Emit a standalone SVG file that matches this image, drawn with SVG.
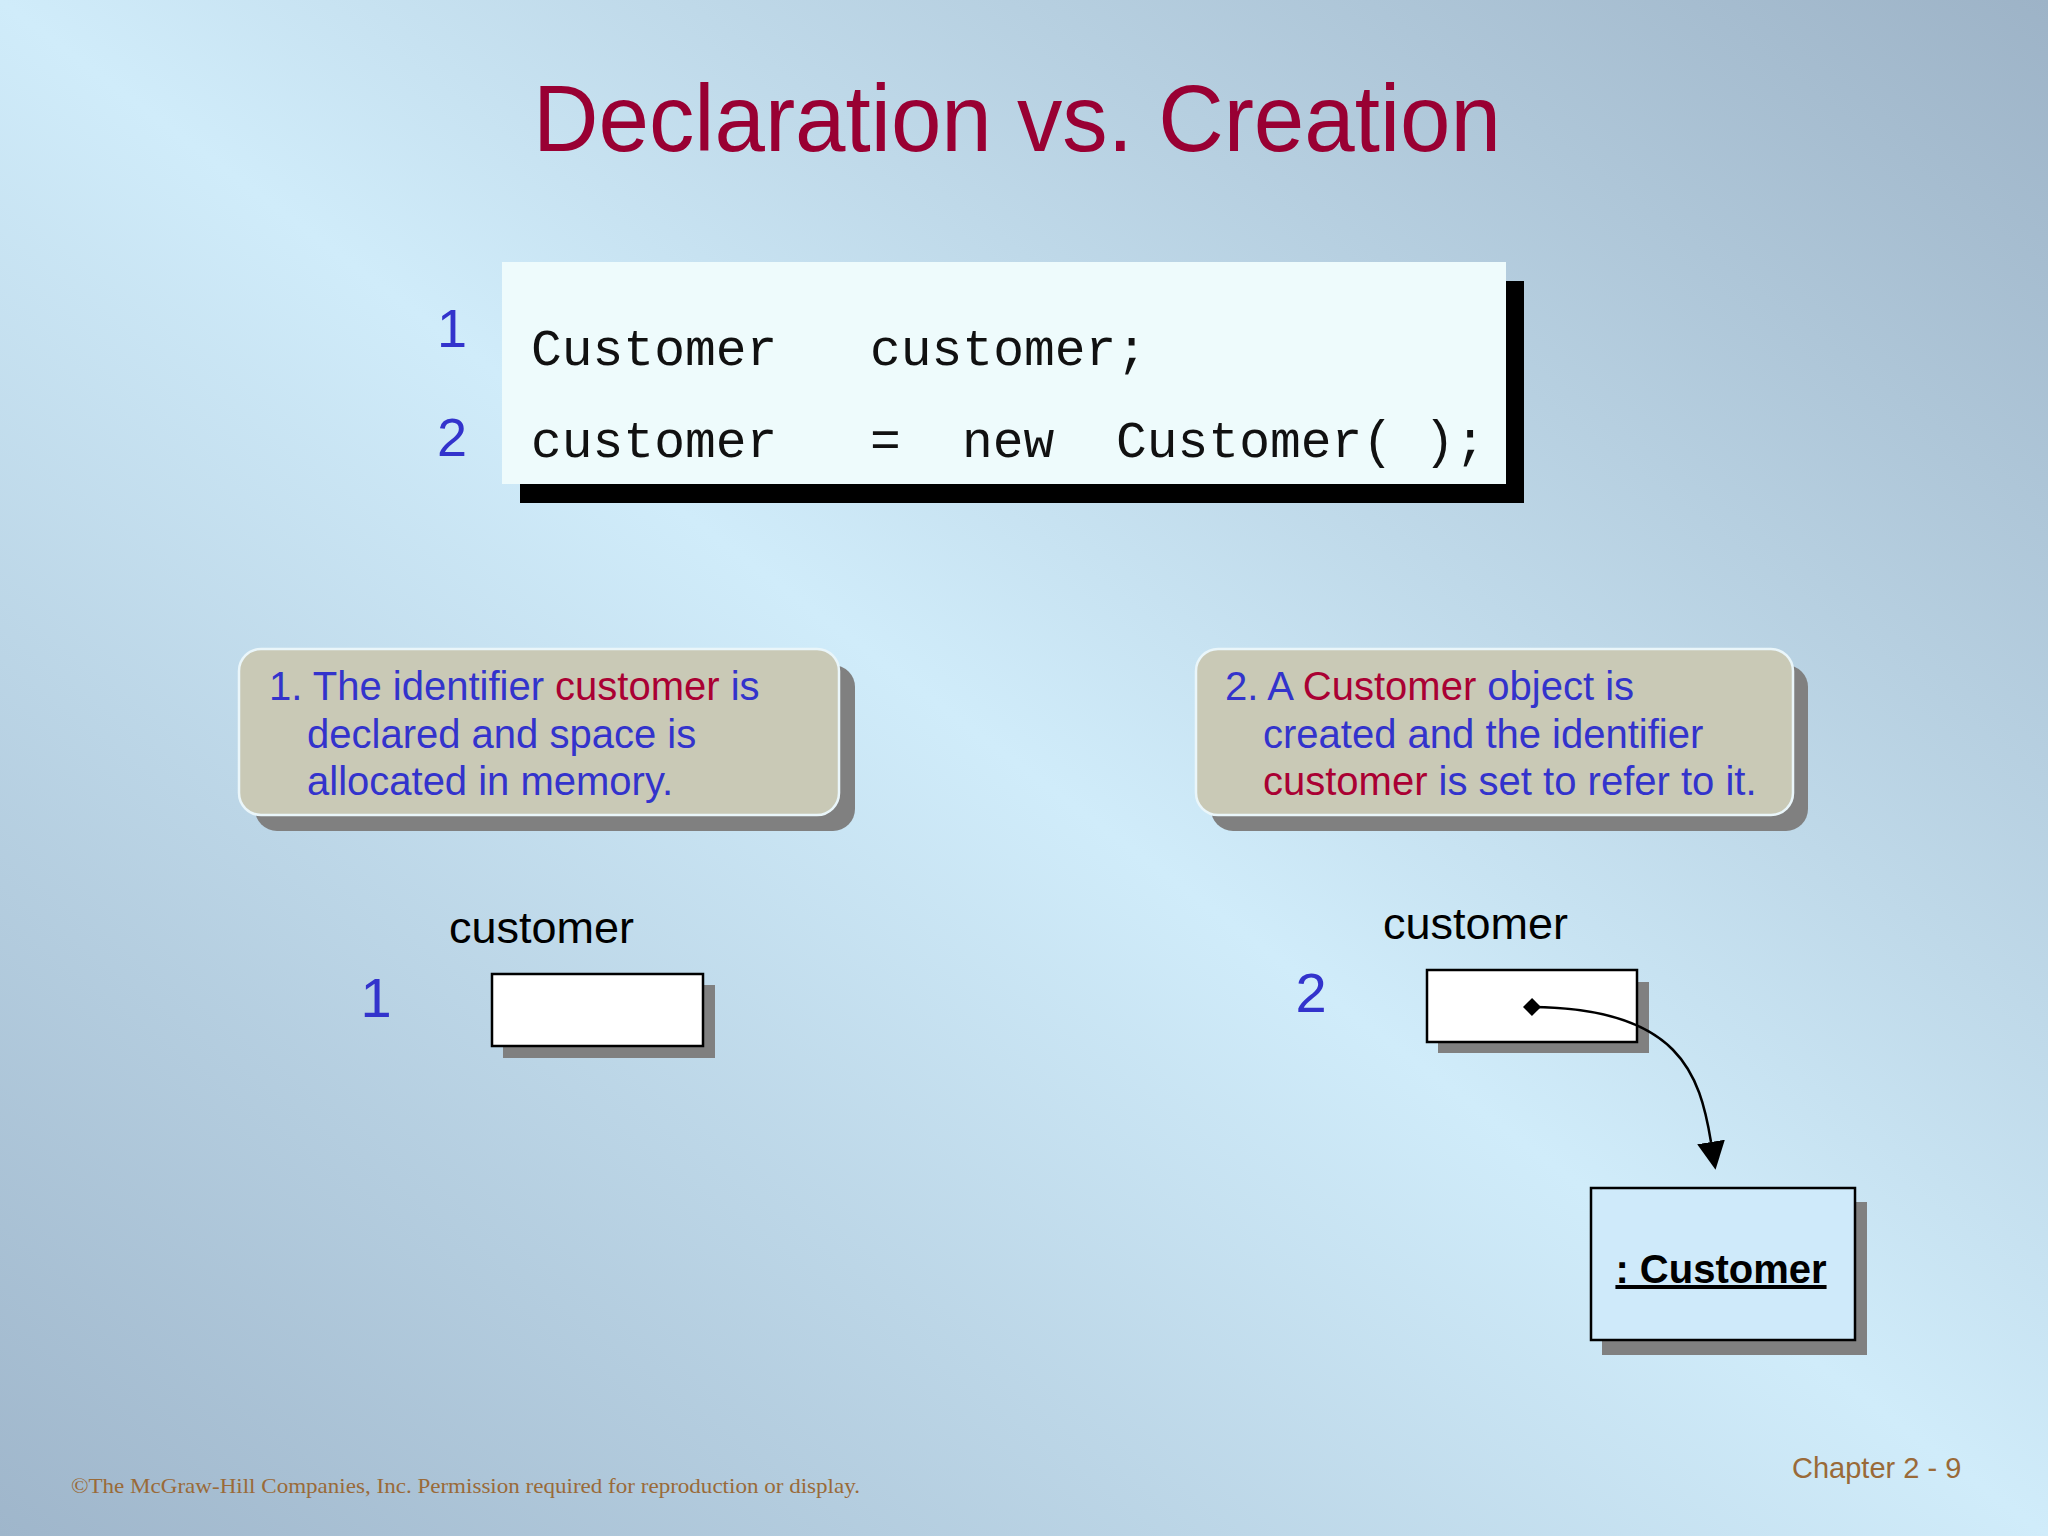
<svg xmlns="http://www.w3.org/2000/svg" width="2048" height="1536" viewBox="0 0 2048 1536">
  <defs>
    <linearGradient id="bg" gradientUnits="userSpaceOnUse" x1="1761" y1="-215" x2="287" y2="1751">
      <stop offset="0" stop-color="#9DB3C7"/>
      <stop offset="0.5" stop-color="#D0ECFA"/>
      <stop offset="1" stop-color="#9FB6CB"/>
    </linearGradient>
    <marker id="arrow" viewBox="0 0 28 28" refX="0" refY="14" markerWidth="28" markerHeight="28" markerUnits="userSpaceOnUse" orient="auto">
      <path d="M0,0 L28,14 L0,28 z" fill="#000"/>
    </marker>
    <marker id="diamond" viewBox="0 0 18 18" refX="9" refY="9" markerWidth="18" markerHeight="18" markerUnits="userSpaceOnUse" orient="auto">
      <path d="M0,9 L9,0 L18,9 L9,18 z" fill="#000"/>
    </marker>
  </defs>
  <style>
    .sans { font-family: "Liberation Sans", Arial, sans-serif; }
    .title { font-size: 94px; fill: #990033; }
    .code { font-family: "Liberation Mono", "Courier New", monospace; font-size: 51.3px; fill: #111; }
    .num { font-family: "Liberation Sans", Arial, sans-serif; fill: #3333CC; text-anchor: middle; }
    .callout { fill: #C9C9B6; stroke: #EAF6FA; stroke-width: 2.5; }
    .shadow { fill: #808080; }
    .ctext { font-family: "Liberation Sans", Arial, sans-serif; font-size: 40px; fill: #3333CC; }
    .red { fill: #AA0033; }
    .var { fill: #FFFFFF; stroke: #000; stroke-width: 2.5; }
    .label { font-family: "Liberation Sans", Arial, sans-serif; font-size: 45px; fill: #000; }
    .footer { font-family: "Liberation Serif", "Times New Roman", serif; font-size: 21px; fill: #9A6A38; }
    .chapter { font-family: "Liberation Sans", Arial, sans-serif; font-size: 29px; fill: #9A6A38; }
  </style>

  <rect x="0" y="0" width="2048" height="1536" fill="url(#bg)"/>

  <text id="title" class="sans title" x="1017" y="151" text-anchor="middle" textLength="968" lengthAdjust="spacingAndGlyphs">Declaration vs. Creation</text>

  <g id="code-box">
    <rect x="520" y="281" width="1004" height="222" fill="#000"/>
    <rect x="502" y="262" width="1004" height="222" fill="#EEFBFC"/>
    <text class="code" y="365"><tspan x="531">Customer</tspan><tspan x="870">customer;</tspan></text>
    <text class="code" y="457"><tspan x="531">customer</tspan><tspan x="870">=</tspan><tspan x="962">new</tspan><tspan x="1116">Customer(</tspan><tspan x="1424">);</tspan></text>
    <text class="num" x="452" y="347" font-size="54">1</text>
    <text class="num" x="452" y="456" font-size="54">2</text>
  </g>

  <g id="callout-1">
    <rect class="shadow" x="255" y="665" width="600" height="166" rx="22" ry="22"/>
    <rect class="callout" x="239" y="649" width="600" height="166" rx="22" ry="22"/>
    <text class="ctext" x="269" y="700">1. The identifier <tspan class="red">customer</tspan> is</text>
    <text class="ctext" x="307" y="748">declared and space is</text>
    <text class="ctext" x="307" y="795">allocated in memory.</text>
  </g>

  <g id="callout-2">
    <rect class="shadow" x="1211" y="665" width="597" height="166" rx="22" ry="22"/>
    <rect class="callout" x="1196" y="649" width="597" height="166" rx="22" ry="22"/>
    <text class="ctext" x="1225" y="700">2. A <tspan class="red">Customer</tspan> object is</text>
    <text class="ctext" x="1263" y="748">created and the identifier</text>
    <text class="ctext" x="1263" y="795"><tspan class="red">customer</tspan> is set to refer to it.</text>
  </g>

  <g id="var-1">
    <text class="label" x="449" y="943">customer</text>
    <text class="num" x="376" y="1017" font-size="56">1</text>
    <rect class="shadow" x="503" y="985" width="212" height="73"/>
    <rect class="var" x="492" y="974" width="211" height="72"/>
  </g>

  <g id="var-2">
    <text class="label" x="1383" y="939">customer</text>
    <text class="num" x="1311" y="1012" font-size="56">2</text>
    <rect class="shadow" x="1438" y="982" width="211" height="71"/>
    <rect class="var" x="1427" y="970" width="210" height="72"/>
  </g>

  <g id="customer-object">
    <rect class="shadow" x="1602" y="1202" width="265" height="153"/>
    <rect x="1591" y="1188" width="264" height="152" fill="#CFEAFA" stroke="#000" stroke-width="2.5"/>
    <text class="sans" x="1721" y="1283" font-size="40" font-weight="bold" text-anchor="middle" text-decoration="underline" fill="#000">: Customer</text>
  </g>

  <g id="connectors">
    <path d="M1532,1007 C1680,1008 1700,1075 1711,1142" fill="none" stroke="#000" stroke-width="2.5" marker-start="url(#diamond)" marker-end="url(#arrow)"/>
  </g>

  <text class="footer" x="71" y="1493" textLength="789" lengthAdjust="spacingAndGlyphs">©The McGraw-Hill Companies, Inc. Permission required for reproduction or display.</text>
  <text class="chapter" x="1792" y="1478">Chapter 2 - 9</text>
</svg>
